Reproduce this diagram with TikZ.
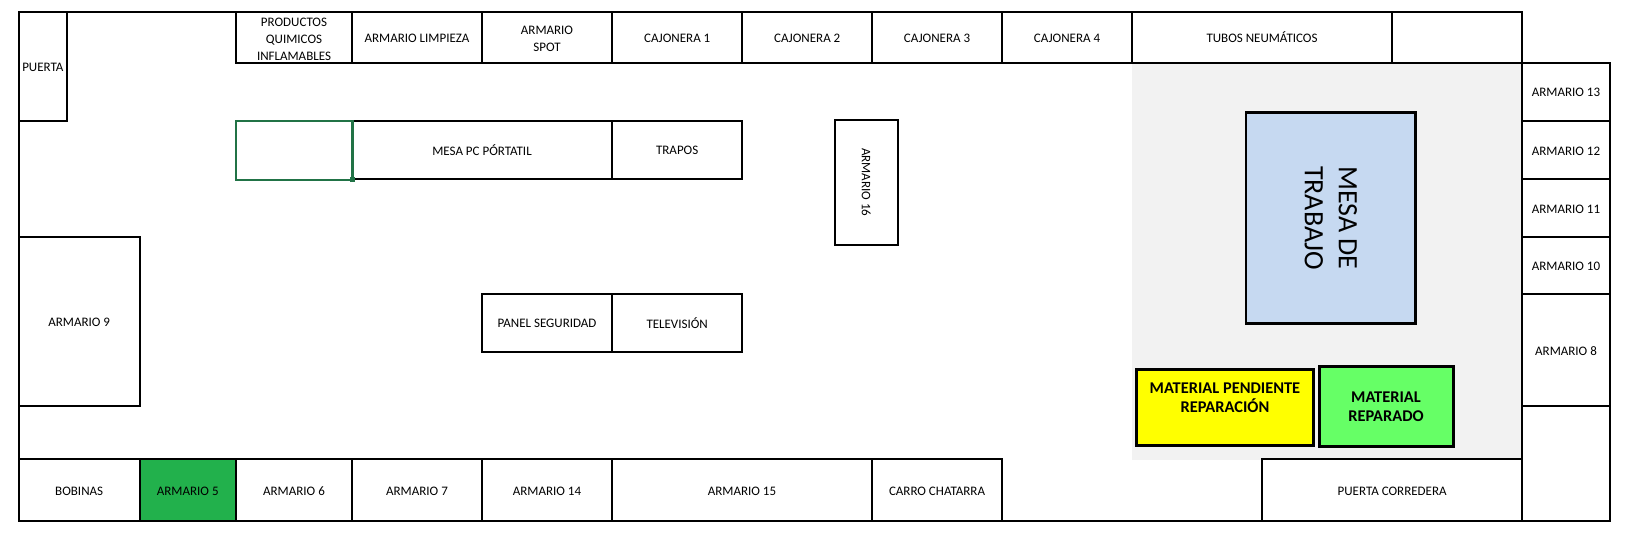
\documentclass[tikz,border=0pt]{standalone}
\usepackage{fontspec}
\setmainfont{Carlito}
\usetikzlibrary{positioning}
\definecolor{suelo}{HTML}{F2F2F2}
\definecolor{azulmesa}{HTML}{C6D9F1}
\definecolor{verdecelda}{HTML}{217346}
\definecolor{verdearmario}{HTML}{22B14C}
\definecolor{verdereparado}{HTML}{66FF66}
\definecolor{amarillo}{HTML}{FFFF00}
\newcommand{\bajar}{\mbox{}\\[-5pt]}
\tikzset{
  box/.style={draw, line width=2pt, inner sep=0pt, outer sep=0pt, align=center,
    font=\fontsize{13}{17}\selectfont},
  low/.style={text height=10.5pt},
  toprow/.style={box, minimum height=50.7pt},
  botrow/.style={box, low, minimum height=61.7pt},
  midrow/.style={box, minimum height=58pt},
  siderow/.style={box, low, minimum width=88pt},
  heavy/.style={box, line width=3pt, font=\fontsize{16.4}{19}\selectfont\bfseries},
  wall/.style={line width=2pt, line cap=rect},
}
\begin{document}
\begin{tikzpicture}[x=1pt, y=1pt, node distance=0pt]
    \useasboundingbox (0,0) rectangle (1630,-540);

    % Work area
    \node (suelo) [fill=suelo, inner sep=0pt, minimum width=390pt, minimum height=397.3pt, anchor=north west] at (1132,-62.7) {};

    % Top row
    \node (puerta) [box, low, minimum width=47.9pt, minimum height=108.7pt, anchor=north west] at (18.9,-12) {PUERTA};
    \node (productos) [toprow, minimum width=116pt, anchor=north west] at (236,-12) {\bajar PRODUCTOS\\QUIMICOS\\INFLAMABLES};
    \node (limpieza) [toprow, low, minimum width=130pt, right=of productos] {ARMARIO LIMPIEZA};
    \node (spot) [toprow, minimum width=130pt, right=of limpieza] {\bajar ARMARIO\\SPOT};
    \node (cajonera1) [toprow, low, minimum width=130.4pt, right=of spot] {CAJONERA 1};
    \node (cajonera2) [toprow, low, minimum width=129.6pt, right=of cajonera1] {CAJONERA 2};
    \node (cajonera3) [toprow, low, minimum width=130pt, right=of cajonera2] {CAJONERA 3};
    \node (cajonera4) [toprow, low, minimum width=130pt, right=of cajonera3] {CAJONERA 4};
    \node (tubos) [toprow, minimum width=260pt, right=of cajonera4] {TUBOS NEUMÁTICOS};
    \node (hueco) [toprow, minimum width=130pt, right=of tubos] {};

    % Right column
    \node (armario13) [siderow, minimum height=58pt, anchor=north west] at (1522,-62.7) {ARMARIO 13};
    \node (armario12) [siderow, minimum height=58.3pt, below=of armario13] {ARMARIO 12};
    \node (armario11) [siderow, minimum height=57.7pt, below=of armario12] {ARMARIO 11};
    \node (armario10) [siderow, minimum height=57.3pt, below=of armario11] {ARMARIO 10};
    \node (armario8) [siderow, minimum height=111.7pt, below=of armario10] {ARMARIO 8};
    \node (rincon) [box, minimum width=88pt, minimum height=115pt, below=of armario8] {};

    % Bottom row
    \node (bobinas) [botrow, minimum width=120.6pt, anchor=north west] at (18.9,-459) {BOBINAS};
    \node (armario5) [botrow, fill=verdearmario, minimum width=96.5pt, right=of bobinas] {ARMARIO 5};
    \node (armario6) [botrow, minimum width=116pt, right=of armario5] {ARMARIO 6};
    \node (armario7) [botrow, minimum width=130pt, right=of armario6] {ARMARIO 7};
    \node (armario14) [botrow, minimum width=130pt, right=of armario7] {ARMARIO 14};
    \node (armario15) [botrow, minimum width=260pt, right=of armario14] {ARMARIO 15};
    \node (chatarra) [botrow, minimum width=130pt, right=of armario15] {CARRO CHATARRA};
    \node (corredera) [botrow, minimum width=259.8pt, anchor=north west] at (1262.2,-459) {PUERTA CORREDERA};

    % Inside the room
    \node (armario9) [box, low, minimum width=120.6pt, minimum height=169pt, anchor=north west] at (18.9,-236.7) {ARMARIO 9};
    \node (mesapc) [midrow, minimum width=260pt, anchor=north west] at (352,-120.7) {MESA PC PÓRTATIL};
    \node (trapos) [midrow, low, minimum width=130.4pt, right=of mesapc] {TRAPOS};
    \node (panel) [midrow, minimum width=130pt, anchor=north west] at (482,-294) {PANEL SEGURIDAD};
    \node (television) [midrow, minimum width=130.4pt, right=of panel] {TELEVISIÓN};
    \node (armario16) [box, rotate=-90, minimum width=125.3pt, minimum height=63.5pt] at (866.3,-182.3) {ARMARIO 16};

    \node (mesatrabajo) [box, fill=azulmesa, line width=2.8pt, rotate=-90, minimum width=210.6pt, minimum height=169.8pt,
        font=\fontsize{28}{34}\selectfont] at (1330.9,-218) {MESA DE\\TRABAJO};
    \node (pendiente) [heavy, fill=amarillo, minimum width=177.7pt, minimum height=76.4pt, anchor=north west] at (1136.1,-369.3) {MATERIAL PENDIENTE\\REPARACIÓN\\\mbox{}};
    \node (reparado) [heavy, fill=verdereparado, minimum width=134pt, minimum height=80.4pt, anchor=north west] at (1319,-366.3) {MATERIAL\\REPARADO};

    % Selected cell
    \node (seleccion) [draw=verdecelda, line width=2.3pt, inner sep=0pt, outer sep=0pt, minimum width=116.5pt, minimum height=59pt, anchor=north west] at (236,-120.7) {};
    \node (asa) [fill=verdecelda, inner sep=0pt, minimum size=5.5pt] at (seleccion.south east) {};

    % Walls
    \draw[wall] (puerta.north east) -- (productos.north west);
    \draw[wall] (puerta.south west) -- (armario9.north west);
    \draw[wall] (armario9.south west) -- (bobinas.north west);
    \draw[wall] (chatarra.south east) -- (corredera.south west);
\end{tikzpicture}
\end{document}
